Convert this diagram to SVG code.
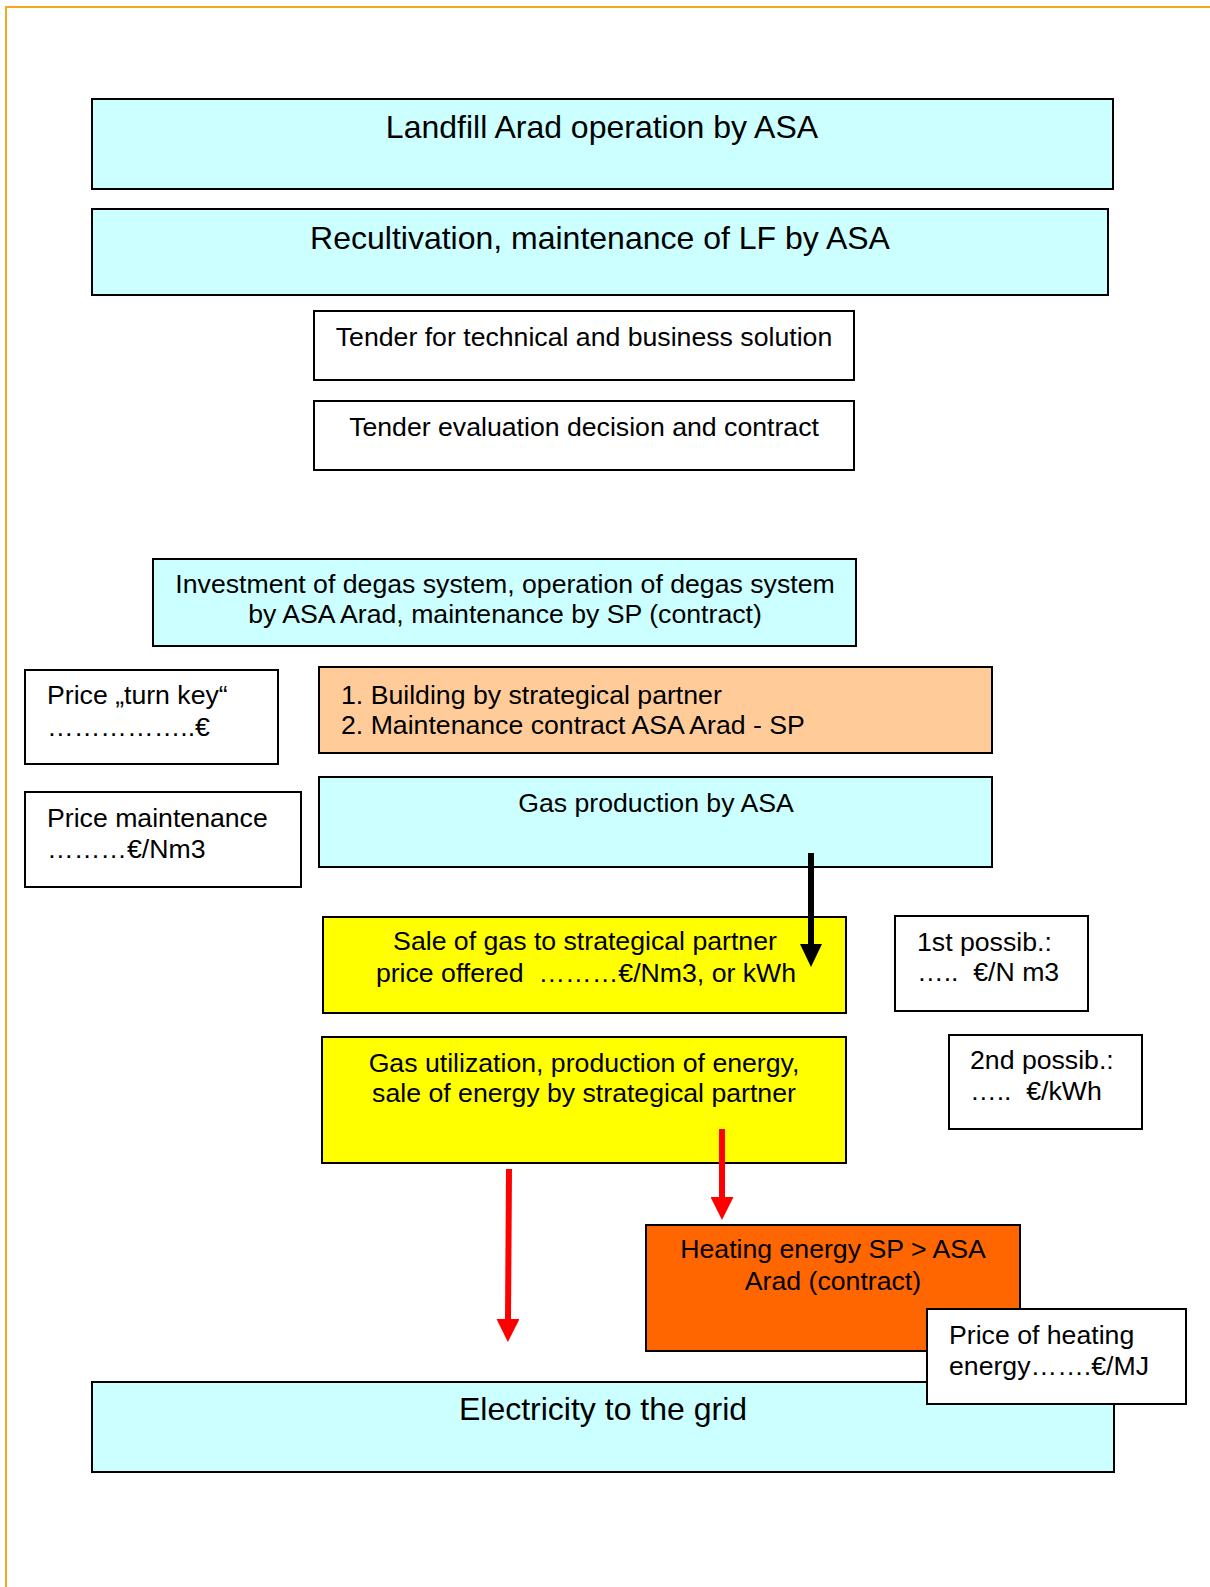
<svg xmlns="http://www.w3.org/2000/svg" width="1210" height="1587" viewBox="0 0 1210 1587">
<style>
text{font-family:"Liberation Sans",Arial,sans-serif;fill:#000;white-space:pre}
.big{font-size:32px}
.t{font-size:26.67px}
.c{text-anchor:middle}
.box{stroke:#000;stroke-width:2}
.cyan{fill:#CCFFFF}
.white{fill:#FFFFFF}
.peach{fill:#FFCC99}
.yellow{fill:#FFFF00}
.orange{fill:#FF6600}
.blk{stroke:#000;stroke-width:6;fill:none}
.red{stroke:#FF0000;stroke-width:6;fill:none}
</style>
<defs>
<marker id="ahBlack" viewBox="0 0 23 22" refX="0" refY="11" markerWidth="23" markerHeight="22" markerUnits="userSpaceOnUse" orient="auto">
<path d="M0,0 L23,11 L0,22 Z" fill="#000"/>
</marker>
<marker id="ahRed" viewBox="0 0 23 23" refX="0" refY="11.5" markerWidth="23" markerHeight="23" markerUnits="userSpaceOnUse" orient="auto">
<path d="M0,0 L23,11.5 L0,23 Z" fill="#FF0000"/>
</marker>
</defs>
<rect width="1210" height="1587" fill="#FFFFFF"/>
<g id="page-border" stroke="#F5A623" stroke-width="2" fill="none">
<path d="M6,1587 L6,7 L1210,7"/>
</g>

<g id="landfill">
<rect class="box cyan" x="92" y="99" width="1021" height="90"/>
<text class="big c" x="602" y="138">Landfill Arad operation by ASA</text>
</g>
<g id="recultivation">
<rect class="box cyan" x="92" y="209" width="1016" height="86"/>
<text class="big c" x="600" y="249">Recultivation, maintenance of LF by ASA</text>
</g>
<g id="tender">
<rect class="box white" x="314" y="311" width="540" height="69"/>
<text class="t c" x="584" y="346">Tender for technical and business solution</text>
</g>
<g id="tender-eval">
<rect class="box white" x="314" y="401" width="540" height="69"/>
<text class="t c" x="584" y="436">Tender evaluation decision and contract</text>
</g>
<g id="investment">
<rect class="box cyan" x="153" y="559" width="703" height="87"/>
<text class="t c" x="505" y="593">Investment of degas system, operation of degas system</text>
<text class="t c" x="505" y="623">by ASA Arad, maintenance by SP (contract)</text>
</g>
<g id="price-turnkey">
<rect class="box white" x="25" y="670" width="253" height="94"/>
<text class="t" x="47" y="704">Price „turn key“</text>
<text class="t" x="47" y="736">……………..€</text>
</g>
<g id="building">
<rect class="box peach" x="319" y="667" width="673" height="86"/>
<text class="t" x="341" y="704">1. Building by strategical partner</text>
<text class="t" x="341" y="734">2. Maintenance contract ASA Arad - SP</text>
</g>
<g id="price-maintenance">
<rect class="box white" x="25" y="792" width="276" height="95"/>
<text class="t" x="47" y="827">Price maintenance</text>
<text class="t" x="47" y="858">………€/Nm3</text>
</g>
<g id="gas-production">
<rect class="box cyan" x="319" y="777" width="673" height="90"/>
<text class="t c" x="656" y="812">Gas production by ASA</text>
</g>
<g id="sale-of-gas">
<rect class="box yellow" x="323" y="917" width="523" height="96"/>
<text class="t c" x="585" y="950">Sale of gas to strategical partner</text>
<text class="t c" x="586" y="982">price offered  ………€/Nm3, or kWh</text>
</g>
<g id="possib1">
<rect class="box white" x="895" y="916" width="193" height="95"/>
<text class="t" x="917" y="951">1st possib.:</text>
<text class="t" x="917" y="981">…..  €/N m3</text>
</g>
<g id="gas-utilization">
<rect class="box yellow" x="322" y="1037" width="524" height="126"/>
<text class="t c" x="584" y="1072">Gas utilization, production of energy,</text>
<text class="t c" x="584" y="1102">sale of energy by strategical partner</text>
</g>
<g id="possib2">
<rect class="box white" x="949" y="1035" width="193" height="94"/>
<text class="t" x="970" y="1069">2nd possib.:</text>
<text class="t" x="970" y="1100">…..  €/kWh</text>
</g>
<g id="heating">
<rect class="box orange" x="646" y="1225" width="374" height="126"/>
<text class="t c" x="833" y="1258">Heating energy SP &gt; ASA</text>
<text class="t c" x="833" y="1290">Arad (contract)</text>
</g>
<g id="electricity">
<rect class="box cyan" x="92" y="1382" width="1022" height="90"/>
<text class="big c" x="603" y="1420">Electricity to the grid</text>
</g>
<g id="price-heating">
<rect class="box white" x="927" y="1309" width="259" height="95"/>
<text class="t" x="949" y="1344">Price of heating</text>
<text class="t" x="949" y="1375">energy…….€/MJ</text>
</g>

<g id="connectors">
<line class="blk" x1="811" y1="853" x2="811" y2="944" marker-end="url(#ahBlack)"/>
<line class="red" x1="722" y1="1129" x2="722" y2="1197" marker-end="url(#ahRed)"/>
<line class="red" x1="509" y1="1169" x2="508" y2="1319" marker-end="url(#ahRed)"/>
</g>
</svg>
